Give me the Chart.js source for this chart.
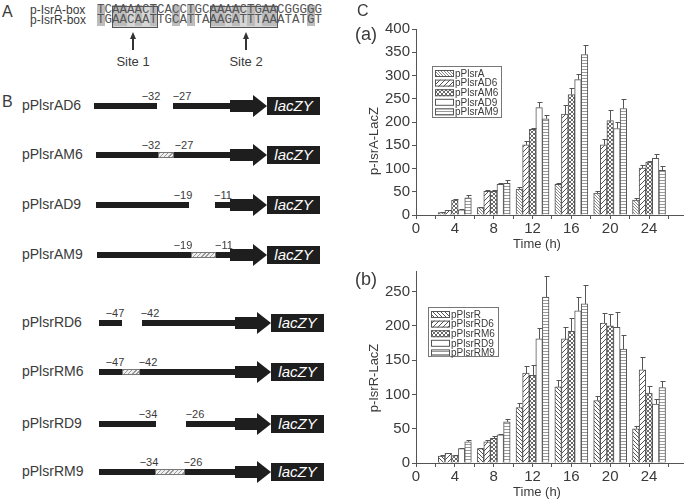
<!DOCTYPE html>
<html>
<head>
<meta charset="utf-8">
<script src="https://cdn.jsdelivr.net/npm/chart.js@4.4.0/dist/chart.umd.min.js"></script>
<style>
body { margin:0; background:#fff; width:685px; height:502px; overflow:hidden; position:relative;
       font-family:"Liberation Sans", Arial, sans-serif; color:#3a3a3a; }
.abs { position:absolute; white-space:nowrap; }
canvas { position:absolute; }
</style>
</head>
<body>
<canvas id="chartA" width="345" height="255" style="left:340px;top:0"></canvas>
<canvas id="chartB" width="345" height="247" style="left:340px;top:255px"></canvas>
<div id="fig"></div>
<script>
// Data
const times = [4, 8, 12, 16, 20, 24];

const labelsA = ['pPlsrA', 'pPlsrAD6', 'pPlsrAM6', 'pPlsrAD9', 'pPlsrAM9'];
const valA   = [5, 16, 56, 66, 47, 32];
const errA   = [1, 1, 5, 3, 5, 5];
const valAD6 = [10, 51, 151, 217, 151, 101];
const errAD6 = [1, 2, 8, 20, 13, 6];
const valAM6 = [32, 51, 184, 259, 203, 114];
const errAM6 = [2, 3, 3, 14, 22, 3];
const valAD9 = [11, 66, 231, 291, 186, 122];
const errAD9 = [1, 3, 11, 13, 14, 9];
const valAM9 = [37, 68, 207, 345, 229, 96];
const errAM9 = [5, 8, 9, 21, 21, 10];

const labelsR = ['pPlsrR', 'pPlsrRD6', 'pPlsrRM6', 'pPlsrRD9', 'pPlsrRM9'];
const valR   = [10, 21, 81, 111, 91, 50];
const errR   = [1, 1, 6, 10, 7, 4];
const valRD6 = [14, 31, 131, 181, 204, 136];
const errRD6 = [1, 2, 10, 17, 15, 18];
const valRM6 = [11, 36, 128, 192, 200, 102];
const errRM6 = [1, 3, 15, 20, 17, 10];
const valRD9 = [21, 41, 181, 222, 198, 86];
const errRD9 = [1, 1, 16, 20, 22, 8];
const valRM9 = [31, 60, 242, 232, 166, 110];
const errRM9 = [3, 4, 30, 28, 21, 10];

const xTicksMajor = [0, 4, 8, 12, 16, 20, 24];

// Fill patterns
function makePattern(size, draw) {
    const c = document.createElement('canvas');
    c.width = c.height = size;
    const g = c.getContext('2d');
    g.fillStyle = '#fff'; g.fillRect(0, 0, size, size);
    g.fillStyle = '#555';
    draw(g, size);
    return c.getContext('2d').createPattern(c, 'repeat');
}
const patFine  = makePattern(3, (g, n) => { g.fillStyle = '#8a8a8a'; for (let i = 0; i < n; i++) g.fillRect(i, i, 1, 1); });
const patSlash = makePattern(5, (g, n) => { for (let i = 0; i < n; i++) g.fillRect(i, n - 1 - i, 1, 1); });
const patCheck = makePattern(4, (g, n) => { g.fillStyle = '#6a6a6a'; for (let i = 0; i < n; i++) { g.fillRect(i, i, 1, 1); g.fillRect(i, n - 1 - i, 1, 1); } });
const patHoriz = makePattern(3, (g, n) => { g.fillStyle = '#9a9a9a'; g.fillRect(0, 0, n, 1); });
const patBack  = makePattern(4, (g, n) => { for (let i = 0; i < n; i++) g.fillRect(i, i, 1, 1); });

// Plugins: error bars and a boxed legend inside the plot
const errorBars = {
    id: 'errorBars',
    afterDatasetsDraw(chart) {
        const ctx = chart.ctx, ys = chart.scales.y;
        ctx.save();
        ctx.strokeStyle = '#555'; ctx.lineWidth = 1;
        chart.data.datasets.forEach((ds, i) => {
            chart.getDatasetMeta(i).data.forEach((bar, j) => {
                const top = Math.round(ys.getPixelForValue(ds.data[j].y + ds.errors[j])) + 0.5;
                const x = Math.round(bar.x) + 0.5;
                ctx.beginPath();
                ctx.moveTo(x, bar.y); ctx.lineTo(x, top);
                ctx.moveTo(x - 2, top); ctx.lineTo(x + 3, top);
                ctx.stroke();
            });
        });
        ctx.restore();
    }
};

const boxLegend = {
    id: 'boxLegend',
    afterDraw(chart, args, opts) {
        const ctx = chart.ctx;
        ctx.save();
        ctx.lineWidth = 1;
        ctx.strokeStyle = '#777';
        ctx.strokeRect(opts.x + 0.5, opts.y + 0.5, opts.w, opts.h);
        ctx.font = '10px "Liberation Sans", Arial';
        ctx.textBaseline = 'middle';
        chart.data.datasets.forEach((ds, i) => {
            const yy = opts.y + 4 + i * opts.row;
            ctx.fillStyle = ds.backgroundColor;
            ctx.fillRect(opts.x + 3, yy, 19, 7);
            ctx.strokeStyle = '#555';
            ctx.strokeRect(opts.x + 3.5, yy + 0.5, 18, 6);
            ctx.fillStyle = '#3a3a3a';
            ctx.fillText(ds.label, opts.x + 23, yy + 4);
        });
        ctx.restore();
    }
};

function buildSets(labels, vals, errs, fills) {
    return labels.map((lab, k) => ({
        label: lab,
        data: times.map((t, i) => ({ x: t, y: vals[k][i] })),
        errors: errs[k],
        backgroundColor: fills[k],
        borderColor: '#555',
        borderWidth: 1,
        barThickness: 6.6
    }));
}

function makeChart(id, sets, yMax, padTop, xH, legendPos) {
    return new Chart(document.getElementById(id), {
        type: 'bar',
        data: { datasets: sets },
        plugins: [errorBars, boxLegend],
        options: {
            responsive: false,
            animation: false,
            layout: { padding: { top: padTop, right: 2, left: 0, bottom: 0 } },
            plugins: { legend: { display: false }, tooltip: { enabled: false }, boxLegend: legendPos },
            scales: {
                x: {
                    type: 'linear', min: 0, max: 27.5, offset: false,
                    grid: { offset: false, drawOnChartArea: false, tickLength: 4, color: '#555' },
                    border: { color: '#555' },
                    ticks: {
                        stepSize: 2, includeBounds: false, autoSkip: false, maxRotation: 0, padding: 1,
                        color: '#3a3a3a', font: { size: 15, family: '"Liberation Sans", Arial' },
                        callback: v => xTicksMajor.includes(v) ? v : ''
                    },
                    afterFit: s => { s.height = xH; }
                },
                y: {
                    min: 0, max: yMax,
                    grid: { drawOnChartArea: false, tickLength: 4, color: '#555' },
                    border: { color: '#555' },
                    ticks: {
                        stepSize: 25, includeBounds: false, padding: 2,
                        color: '#3a3a3a', font: { size: 15, family: '"Liberation Sans", Arial' },
                        callback: v => v % 50 === 0 ? v : ''
                    },
                    afterFit: s => { s.width = 76; }
                }
            }
        }
    });
}

makeChart('chartA',
    buildSets(labelsA, [valA, valAD6, valAM6, valAD9, valAM9], [errA, errAD6, errAM6, errAD9, errAM9],
              [patFine, patSlash, patCheck, '#fff', patHoriz]),
    400, 29, 40, { x: 92, y: 66, w: 69, h: 51, row: 9.6 });

makeChart('chartB',
    buildSets(labelsR, [valR, valRD6, valRM6, valRD9, valRM9], [errR, errRD6, errRM6, errRD9, errRM9],
              [patBack, patSlash, patCheck, '#fff', patHoriz]),
    280, 16, 39, { x: 88, y: 52, w: 70, h: 49, row: 9.6 });

// Text and diagram parts of the figure
const fig = document.getElementById('fig');
function put(html, css) {
    const d = document.createElement('div');
    d.className = 'abs';
    d.style.cssText = css;
    d.innerHTML = html;
    fig.appendChild(d);
    return d;
}

put('C', 'left:357px;top:2px;font-size:16px');
put('(a)', 'left:355px;top:24px;font-size:18px');
put('(b)', 'left:355px;top:269px;font-size:18px');
put('p-IsrA-LacZ', 'left:373px;top:141px;font-size:13px;transform:translate(-50%,-50%) rotate(-90deg)');
put('p-IsrR-LacZ', 'left:373px;top:378px;font-size:13px;transform:translate(-50%,-50%) rotate(-90deg)');
put('Time (h)', 'left:537px;top:243px;font-size:13px;transform:translate(-50%,-50%)');
put('Time (h)', 'left:537px;top:491px;font-size:13px;transform:translate(-50%,-50%)');

// Panel A: aligned boxes
put('A', 'left:2px;top:3px;font-size:16px');
put('p-IsrA-box', 'left:30px;top:4px;font-size:12px;line-height:12px');
put('p-IsrR-box', 'left:30px;top:14px;font-size:12px;line-height:12px');
const seqA = 'TCAAAACTCACCTGCAAAACTGAACGGGGG';
const seqR = 'TGAACAATTGCATTAAAGATTTAAATATGT';
put('', 'left:112px;top:6px;width:45px;height:21px;background:#d6d6d6');
put('', 'left:209.5px;top:6px;width:67.5px;height:21px;background:#d6d6d6');
for (let i = 0; i < seqA.length; i++) {
    if (seqA[i] === seqR[i]) put('', `left:${97 + i * 7.5}px;top:5px;width:7.5px;height:21px;background:#bcbcbc`);
}
for (let i = 0; i < seqA.length; i++) {
    put(seqA[i], `left:${97 + i * 7.5}px;top:4px;width:7.5px;text-align:center;font:12.5px/12px "Liberation Mono",monospace;color:#555`);
    put(seqR[i], `left:${97 + i * 7.5}px;top:14px;width:7.5px;text-align:center;font:12.5px/12px "Liberation Mono",monospace;color:#555`);
}
put('', 'left:112px;top:6px;width:44px;height:20px;border:1px solid #555');
put('', 'left:209.5px;top:6px;width:66.5px;height:20px;border:1px solid #555');
[[133, 'Site 1'], [246, 'Site 2']].forEach(([x, t]) => {
    put('', `left:${x - 0.75}px;top:37px;width:1.5px;height:13px;background:#333`);
    put('', `left:${x - 3.5}px;top:32px;width:0;height:0;border-left:3.5px solid transparent;border-right:3.5px solid transparent;border-bottom:7px solid #333`);
    put(t, `left:${x}px;top:61px;font-size:13px;transform:translate(-50%,-50%)`);
});

// Panel B: constructs
put('B', 'left:2px;top:93px;font-size:16px');
const rows = [
    { name: 'pPlsrAD6', y: 106, segs: [[94, 157], [173, 232]], hatch: null, marks: [['−32', 151], ['−27', 182]], g: 0 },
    { name: 'pPlsrAM6', y: 155, segs: [[96, 232]], hatch: [158, 174], marks: [['−32', 151], ['−27', 184]], g: 0 },
    { name: 'pPlsrAD9', y: 205, segs: [[96, 189], [215, 232]], hatch: null, marks: [['−19', 183], ['−11', 223]], g: 0 },
    { name: 'pPlsrAM9', y: 255, segs: [[97, 232]], hatch: [191, 216], marks: [['−19', 183], ['−11', 224]], g: 0 },
    { name: 'pPlsrRD6', y: 323, segs: [[99, 122], [142, 236]], hatch: null, marks: [['−47', 115], ['−42', 150]], g: 1 },
    { name: 'pPlsrRM6', y: 372, segs: [[99, 236]], hatch: [122, 140], marks: [['−47', 115], ['−42', 148]], g: 1 },
    { name: 'pPlsrRD9', y: 424, segs: [[99, 156], [186, 236]], hatch: null, marks: [['−34', 148], ['−26', 195]], g: 1 },
    { name: 'pPlsrRM9', y: 472, segs: [[99, 236]], hatch: [155, 185], marks: [['−34', 149], ['−26', 193]], g: 1 }
];
const arrowX = [[230, 253, 267], [235, 257, 271]];
rows.forEach(r => {
    put(r.name, `left:22px;top:${r.y - 1}px;font-size:14px;transform:translateY(-50%)`);
    r.segs.forEach(([a, b]) => put('', `left:${a}px;top:${r.y - 3}px;width:${b - a}px;height:6px;background:#1e1e1e`));
    if (r.hatch) {
        put('', `left:${r.hatch[0]}px;top:${r.y - 3}px;width:${r.hatch[1] - r.hatch[0] - 2}px;height:4px;border:1px solid #777;` +
            'background:repeating-linear-gradient(135deg,#999 0 1px,#eee 1px 3px)');
    }
    r.marks.forEach(([t, x]) => put(t, `left:${x}px;top:${r.y - 10}px;font-size:11px;transform:translate(-50%,-50%)`));
    const [s0, s1, tip] = arrowX[r.g];
    put('', `left:${s0}px;top:${r.y - 6}px;width:${s1 - s0}px;height:12px;background:#1e1e1e`);
    put('', `left:${s1}px;top:${r.y - 11}px;width:0;height:0;border-top:11px solid transparent;border-bottom:11px solid transparent;border-left:${tip - s1}px solid #1e1e1e`);
    put('<i>lacZY</i>', `left:${tip}px;top:${r.y - 9}px;width:53px;height:18px;background:#1e1e1e;color:#fff;font-size:15px;line-height:18px;text-align:center`);
});
</script>
</body>
</html>
